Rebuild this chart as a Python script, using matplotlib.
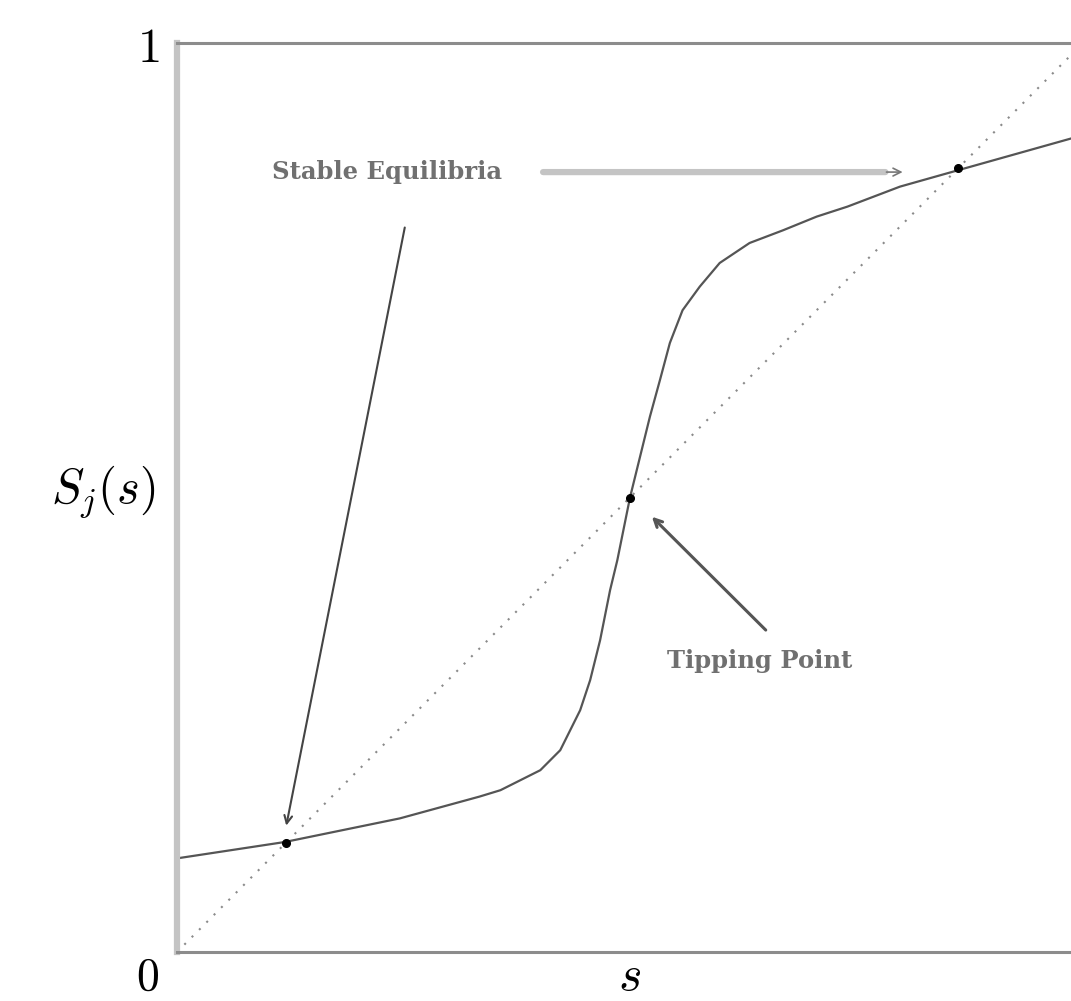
import matplotlib
matplotlib.use("Agg")
import matplotlib.pyplot as plt

plt.rcParams["mathtext.fontset"] = "cm"
plt.rcParams["font.family"] = ["DejaVu Serif"]

# S_j(s)
s_vals = [0.0, 0.119, 0.246, 0.334, 0.357, 0.401, 0.423, 0.445, 0.456, 0.467,
          0.478, 0.486, 0.500, 0.522, 0.533, 0.544, 0.558, 0.577, 0.599, 0.632,
          0.669, 0.706, 0.740, 0.798, 0.862, 0.987, 1.0]
S_vals = [0.103, 0.121, 0.147, 0.171, 0.178, 0.200, 0.222, 0.266, 0.299, 0.343,
          0.398, 0.431, 0.500, 0.589, 0.629, 0.670, 0.706, 0.732, 0.758, 0.780,
          0.794, 0.809, 0.820, 0.842, 0.860, 0.895, 0.899]

# equilibria (stable, tipping, stable)
eq_s = [0.12, 0.5, 0.862]

fig = plt.figure(figsize=(10.71, 10.01), dpi=100)
ax = fig.add_axes([177 / 1071, 49 / 1001, 906 / 1071, 909 / 1001])
ax.set_xlim(0, 1)
ax.set_ylim(0, 1)
ax.set_xticks([])
ax.set_yticks([])

ax.spines["left"].set_color("#c4c4c4")
ax.spines["left"].set_linewidth(4.5)
for side in ("top", "bottom", "right"):
    ax.spines[side].set_color("#8c8c8c")
    ax.spines[side].set_linewidth(2.2)

# 45 degree line
ax.plot([0, 1], [0, 1], linestyle=(0, (1, 4)), color="#8a8a8a", lw=1.5)
# response curve
ax.plot(s_vals, S_vals, color="#555555", lw=1.6)
ax.plot(eq_s, eq_s, "o", color="black", ms=5.5, zorder=5)

# annotations
ax.text(0.105, 0.858, "Stable Equilibria", fontsize=17.5, fontweight="bold",
        color="#707070", va="center", ha="left")
ax.annotate("", xy=(0.785, 0.858), xytext=(0.401, 0.858),
            arrowprops=dict(arrowstyle="-", color="#c4c4c4", lw=4.5))
ax.annotate("", xy=(0.804, 0.858), xytext=(0.78, 0.858),
            arrowprops=dict(arrowstyle="->", color="#777777", lw=1.2,
                            mutation_scale=14))
ax.annotate("", xy=(0.12, 0.136), xytext=(0.252, 0.80),
            arrowprops=dict(arrowstyle="->", color="#444444", lw=1.5,
                            mutation_scale=14))
ax.annotate("", xy=(0.522, 0.481), xytext=(0.652, 0.352),
            arrowprops=dict(arrowstyle="->", color="#555555", lw=2.2,
                            mutation_scale=14))
ax.text(0.541, 0.32, "Tipping Point", fontsize=17.5, fontweight="bold",
        color="#707070", va="center", ha="left")

# axis labels
fig.text(148 / 1071, 1 - 48 / 1001, r"$1$", fontsize=35, ha="center",
         va="center")
fig.text(148 / 1071, 1 - 977 / 1001, r"$0$", fontsize=33, ha="center",
         va="center")
fig.text(630 / 1071, 1 - 976 / 1001, r"$s$", fontsize=36, ha="center",
         va="center")
fig.text(103 / 1071, 1 - 492 / 1001, r"$S_j(s)$", fontsize=35, ha="center",
         va="center")

fig.savefig("out.png", dpi=100)
